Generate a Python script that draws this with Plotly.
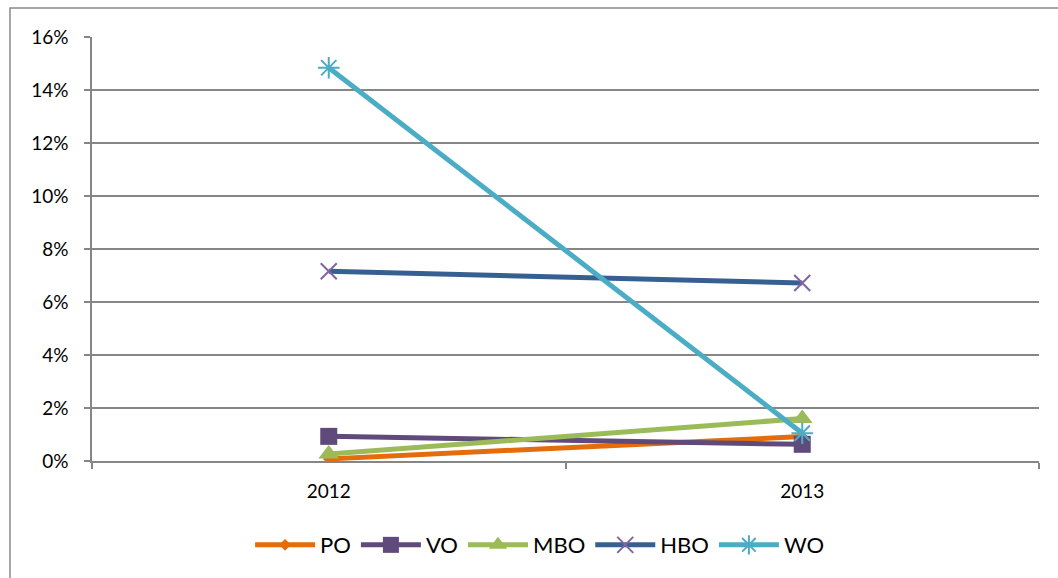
import plotly.graph_objects as go

years = ["2012", "2013"]
po = [0.0008, 0.0092]
vo = [0.0093, 0.0063]
mbo = [0.0026, 0.0160]
hbo = [0.0716, 0.0672]
wo = [0.1484, 0.0105]

series = [
    ("PO", po, "#E46C0A", "#E46C0A", "diamond", 9, 0),
    ("VO", vo, "#604A7B", "#604A7B", "square", 17, 0),
    ("MBO", mbo, "#9BBB59", "#9BBB59", "triangle-up", 18, 0),
    ("HBO", hbo, "#376092", "#8064A2", "x-thin-open", 16, 2),
    ("WO", wo, "#4BACC6", "#4BACC6", "asterisk-open", 18, 2),
]

fig = go.Figure()
for name, vals, lc, mc, sym, sz, mlw in series:
    fig.add_trace(go.Scatter(
        x=years, y=vals, name=name, mode="lines+markers",
        line=dict(color=lc, width=5),
        marker=dict(symbol=sym, size=sz, color=mc,
                    line=dict(color=mc, width=mlw)),
    ))

fig.update_layout(
    width=1058, height=578,
    margin=dict(l=92, r=19, t=37, b=117),
    paper_bgcolor="white", plot_bgcolor="white",
    font=dict(family="Lato, 'Open Sans', sans-serif", size=19, color="#000000"),
    showlegend=True,
    legend=dict(orientation="h", xref="container", yref="container",
                x=0.51, xanchor="center", y=0.057, yanchor="middle",
                font=dict(size=22), itemwidth=60, tracegroupgap=0),
    shapes=[dict(type="rect", xref="paper", yref="paper",
                 x0=-82/947, x1=1.2, y0=-0.5, y1=1 + 29/424,
                 line=dict(color="#898989", width=1.5), layer="below")],
)
fig.update_xaxes(
    type="category", range=[-0.5, 1.5], tickson="boundaries",
    ticks="outside", ticklen=6, tickcolor="#868686", tickwidth=1.5,
    showline=True, linecolor="#868686", linewidth=1.5,
    showgrid=False, tickfont=dict(size=19), ticklabelstandoff=12,
)
fig.update_yaxes(
    range=[0, 0.16], dtick=0.02, tickformat=".0%",
    ticks="outside", ticklen=6, tickcolor="#868686", tickwidth=1.5,
    showline=True, linecolor="#868686", linewidth=1.5,
    showgrid=True, gridcolor="#868686", gridwidth=1.5,
    zeroline=False, tickfont=dict(size=19), ticklabelstandoff=12,
)

fig.write_html("out.html", config={"displayModeBar": False},
               post_script="document.body.style.margin='0';document.body.style.overflow='hidden';")
